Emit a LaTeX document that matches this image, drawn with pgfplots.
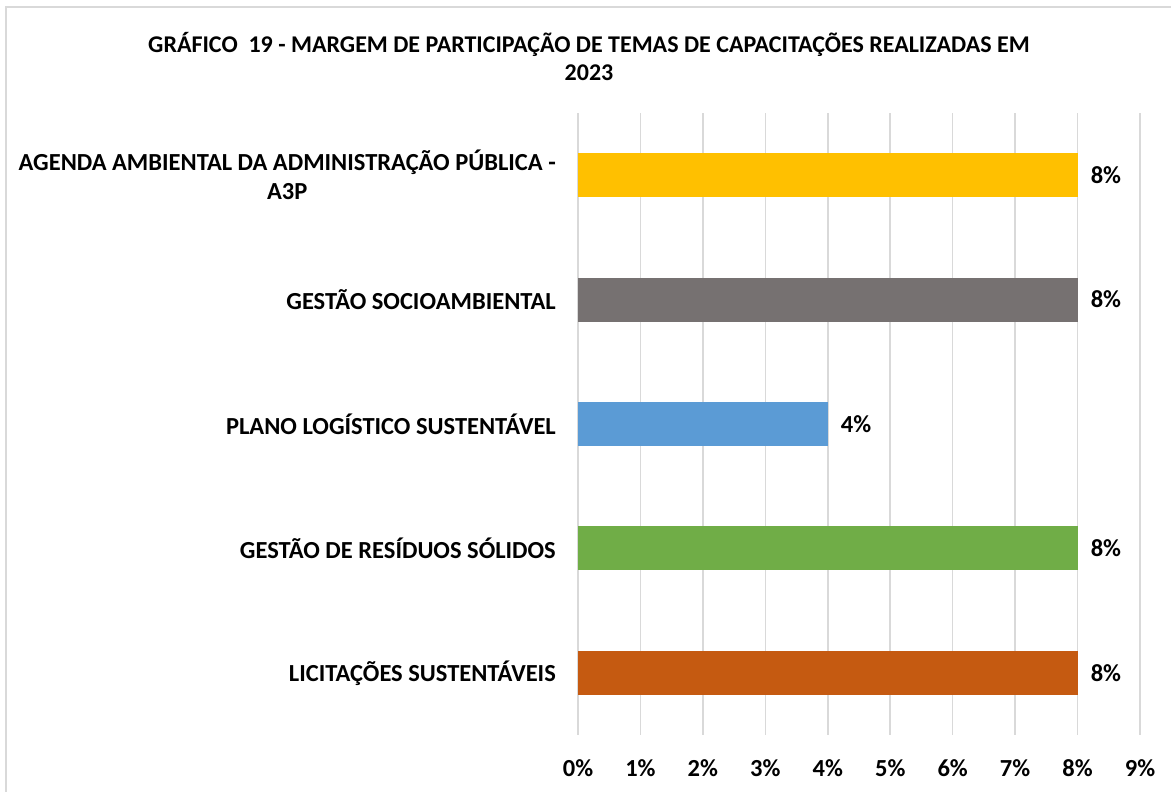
\documentclass[border=0pt]{standalone}
\usepackage{pgfplots}
\pgfplotsset{compat=1.18}
\usepackage{fontspec}
\setmainfont{Carlito}
\definecolor{cyel}{HTML}{FFC000}
\definecolor{cgra}{HTML}{767171}
\definecolor{cblu}{HTML}{5B9BD5}
\definecolor{cgre}{HTML}{70AD47}
\definecolor{cora}{HTML}{C55A11}
\definecolor{gridc}{HTML}{D9D9D9}
\definecolor{framec}{HTML}{D9D9D9}
\newcommand{\lf}{\fontsize{24.5}{29}\selectfont\bfseries}
\begin{document}
\begin{tikzpicture}
\path[use as bounding box] (0,0) rectangle (1171pt,792pt);
\fill[white] (0,0) rectangle (1171pt,792pt);
\draw[color=framec, line width=1.5pt] (6pt,0) -- (6pt,785pt) -- (1171pt,785pt);
\node[font=\fontsize{24}{28}\selectfont\bfseries, align=center] at (589pt,735pt)
  {GRÁFICO\ \ 19 - MARGEM DE PARTICIPAÇÃO DE TEMAS DE CAPACITAÇÕES REALIZADAS EM\\2023};
\begin{axis}[
  at={(578pt,57pt)}, anchor=south west,
  scale only axis, width=562pt, height=622pt,
  xmin=0, xmax=9, ymin=-0.5, ymax=4.5,
  xtick={0,1,...,9},
  /pgf/number format/assume math mode=true,
  xticklabel={\pgfmathprintnumber{\tick}\%},
  ytick={0,1,2,3,4},
  yticklabels={LICITAÇÕES SUSTENTÁVEIS, GESTÃO DE RESÍDUOS SÓLIDOS, PLANO LOGÍSTICO SUSTENTÁVEL, GESTÃO SOCIOAMBIENTAL, {AGENDA AMBIENTAL DA ADMINISTRAÇÃO PÚBLICA -\\A3P}},
  axis line style={draw=none},
  major tick length=0pt,
  tick style={draw=none},
  xmajorgrids,
  grid style={color=gridc, line width=1.5pt},
  tick label style={font=\lf},
  xticklabel style={anchor=center, inner sep=0pt, yshift=-33pt},
  yticklabel style={anchor=east, inner sep=0pt, xshift=-22pt, align=center},
  xbar, bar width=44pt, bar shift=0pt,
  point meta=x,
  nodes near coords={\pgfmathprintnumber[assume math mode=true]{\pgfplotspointmeta}\%},
  nodes near coords style={anchor=west, inner sep=0pt, xshift=13pt, font=\lf, text=black},
  clip=false,
]
\addplot[draw=none, fill=cora] coordinates {(8,0)};
\addplot[draw=none, fill=cgre] coordinates {(8,1)};
\addplot[draw=none, fill=cblu] coordinates {(4,2)};
\addplot[draw=none, fill=cgra] coordinates {(8,3)};
\addplot[draw=none, fill=cyel] coordinates {(8,4)};
\end{axis}
\end{tikzpicture}
\end{document}
